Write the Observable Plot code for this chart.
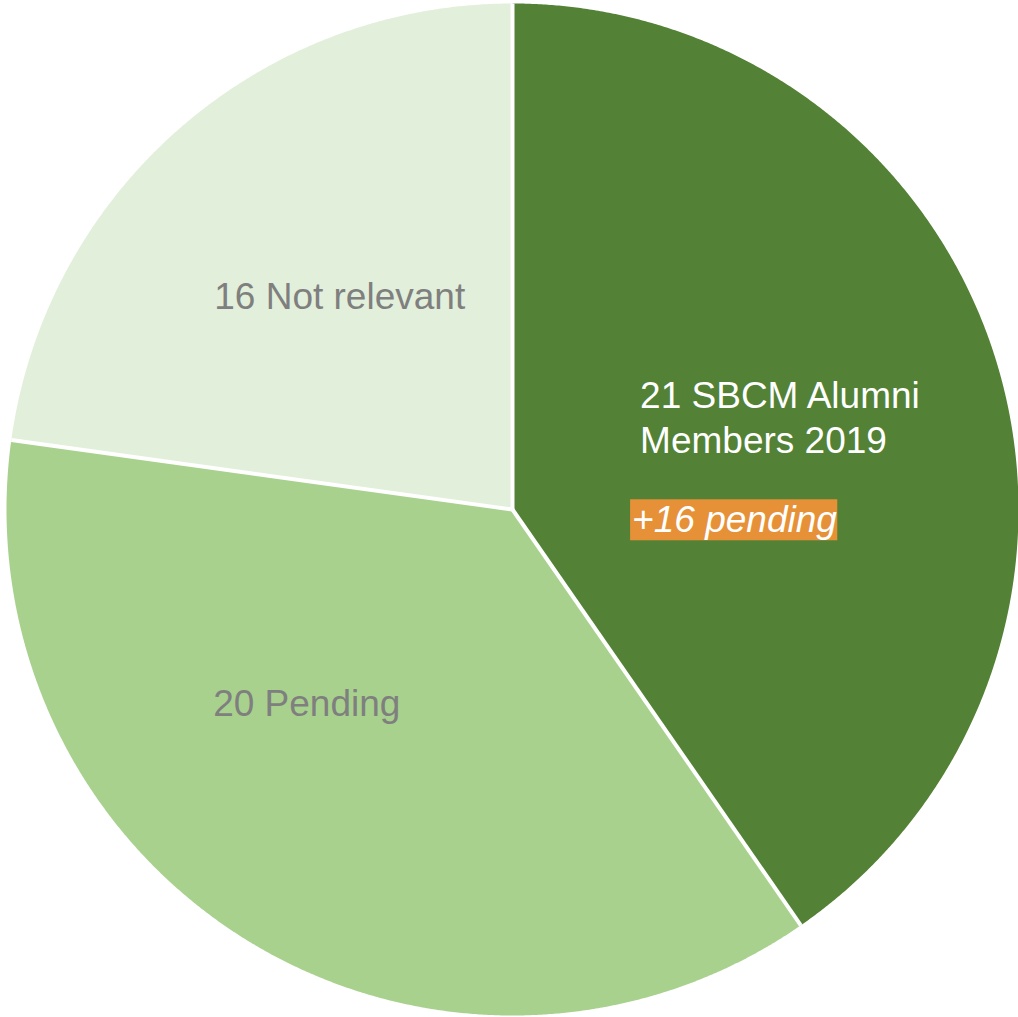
<!DOCTYPE html>
<html><head><meta charset="utf-8">
<script src="https://cdn.jsdelivr.net/npm/d3@7"></script>
<script src="https://cdn.jsdelivr.net/npm/@observablehq/plot@0.6"></script>
<style>html,body{margin:0;padding:0;background:#fff} svg{display:block}</style>
</head><body><div id="chart"></div>
<script>
// ---- data ----
const categories = ["SBCM Alumni Members 2019", "Pending", "Not relevant"];
const values = [23, 21, 13];
const labels = ["21 SBCM Alumni\nMembers 2019", "20 Pending", "16 Not relevant"];
const notes = ["+16 pending", "", ""];

// ---- style ----
const colors = ["#538135", "#A9D18E", "#E2EFDA"];
const labelColors = ["#FFFFFF", "#7F7F7F", "#7F7F7F"];
const noteBg = "#E69138";
const labelRadius = 0.55;
const labelStyle = [
  {anchor: "start", dx: -138, dy: -10},
  {anchor: "middle", dx: -60, dy: -45},
  {anchor: "middle", dx: 10, dy: -5}
];
const noteStyle = {anchor: "start", dx: -146, dy: 94};
const font = "'Liberation Sans', Arial, Helvetica, sans-serif";

// ---- geometry from the pie layout ----
const arcs = d3.pie().sort(null).value(d => d)(values);
const step = Math.PI / 720;
const wedges = arcs.map((a, i) => {
  const pts = [{x: 0, y: 0}];
  for (let t = a.startAngle; t < a.endAngle; t += step) pts.push({x: Math.sin(t), y: Math.cos(t)});
  pts.push({x: Math.sin(a.endAngle), y: Math.cos(a.endAngle)});
  pts.push({x: 0, y: 0});
  return pts;
});
const bounds = arcs.map(a => ({x1: 0, y1: 0, x2: Math.sin(a.startAngle), y2: Math.cos(a.startAngle)}));
const centroids = arcs.map(a => {
  const m = (a.startAngle + a.endAngle) / 2;
  return {x: labelRadius * Math.sin(m), y: labelRadius * Math.cos(m)};
});

const marks = [];
wedges.forEach((w, i) => marks.push(Plot.line(w, {x: "x", y: "y", fill: colors[i], stroke: "none", curve: "linear"})));
marks.push(Plot.link(bounds, {x1: "x1", y1: "y1", x2: "x2", y2: "y2", stroke: "#FFFFFF", strokeWidth: 4}));
centroids.forEach((c, i) => marks.push(Plot.text([c], {
  x: "x", y: "y", text: () => labels[i], fill: labelColors[i], fontSize: 37,
  textAnchor: labelStyle[i].anchor, dx: labelStyle[i].dx, dy: labelStyle[i].dy, lineHeight: 1.216
})));
centroids.forEach((c, i) => {
  if (notes[i]) marks.push(Plot.text([c], {
    x: "x", y: "y", text: () => notes[i], fill: "#FFFFFF", fontSize: 37, fontStyle: "italic",
    textAnchor: noteStyle.anchor, dx: noteStyle.dx, dy: noteStyle.dy
  }));
});

const svg = Plot.plot({
  width: 1018, height: 1017,
  margin: 0,
  style: {fontFamily: font, background: "#fff"},
  x: {domain: [-1, 1], range: [6, 1018], axis: null},
  y: {domain: [-1, 1], range: [1015, 3], axis: null},
  marks
});
document.getElementById("chart").append(svg);

// orange highlight behind the note text
svg.querySelectorAll("text").forEach(t => {
  if (t.textContent && notes.includes(t.textContent)) {
    const b = t.getBBox();
    const r = document.createElementNS("http://www.w3.org/2000/svg", "rect");
    r.setAttribute("x", b.x - 2); r.setAttribute("y", b.y);
    r.setAttribute("width", b.width + 2); r.setAttribute("height", b.height);
    r.setAttribute("fill", noteBg);
    const tr = t.getAttribute("transform");
    if (tr) r.setAttribute("transform", tr);
    t.parentNode.insertBefore(r, t);
  }
});
</script></body></html>
